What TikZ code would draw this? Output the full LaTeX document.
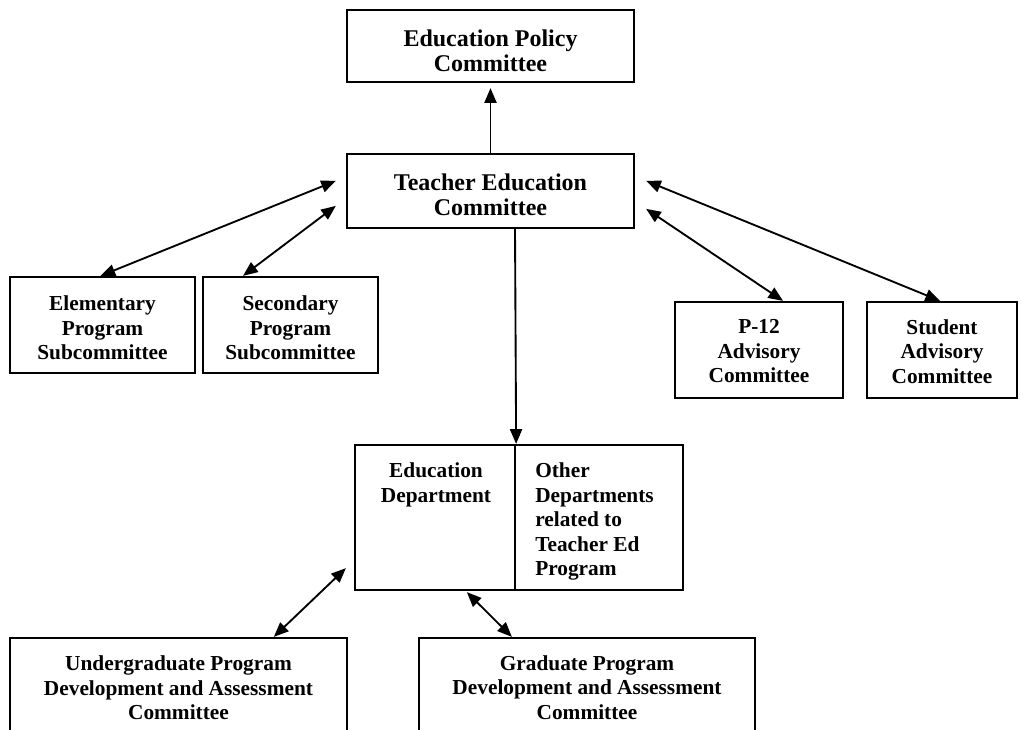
\documentclass[tikz,border=0pt]{standalone}
\usepackage{fontspec}
\setmainfont{Liberation Serif}
\usetikzlibrary{arrows.meta,calc}
\newlength\pxu \setlength\pxu{0.75pt}
\begin{document}
\begin{tikzpicture}[x=0.75pt,y=-0.75pt,
  box/.style={draw,line width=1.7pt,inner sep=0pt},
  lbl/.style={inner sep=0pt,align=center,font=\bfseries\fontsize{16}{18.4}\selectfont},
  biglbl/.style={lbl,font=\bfseries\fontsize{18}{19}\selectfont},
  conn/.style={line width=1.4pt,-{Triangle[length=11pt,width=9pt]}},
  biconn/.style={line width=1.4pt,{Triangle[length=11pt,width=9pt]}-{Triangle[length=11pt,width=9pt]}}]
\useasboundingbox (0,0) rectangle (1023,730);
\clip (0,0) rectangle (1023,730);
% top boxes
\node[box,minimum width=287\pxu,minimum height=72\pxu] (epc) at (490.5,46) {};
\node[biglbl] (epct) at ($(epc.center)+(0,5)$) {Education Policy\\Committee};
\node[box,minimum width=287\pxu,minimum height=74\pxu] (tec) at (490.5,191) {};
\node[biglbl] (tect) at ($(tec.center)+(0,4)$) {Teacher Education\\Committee};
% subcommittees
\node[box,minimum width=185\pxu,minimum height=96\pxu] (elem) at (102.5,325) {};
\node[lbl] (elemt) at ($(elem.center)+(0,3)$) {Elementary\\Program\\Subcommittee};
\node[box,minimum width=175\pxu,minimum height=96\pxu] (sec) at (290.5,325) {};
\node[lbl] (sect) at ($(sec.center)+(0,3)$) {Secondary\\Program\\Subcommittee};
\node[box,minimum width=168\pxu,minimum height=96\pxu] (p12) at (759,350) {};
\node[lbl] (p12t) at ($(p12.center)+(0,1.5)$) {P-12\\Advisory\\Committee};
\node[box,minimum width=150\pxu,minimum height=96\pxu] (stud) at (942,350) {};
\node[lbl] (studt) at ($(stud.center)+(0,1.5)$) {Student\\Advisory\\Committee};
% departments
\node[box,minimum width=160\pxu,minimum height=145\pxu] (edL) at (435,517.5) {};
\node[box,minimum width=168\pxu,minimum height=145\pxu] (edR) at (599,517.5) {};
\node[lbl,anchor=north] (edLt) at (436,462.5) {Education\\Department};
\node[lbl,align=left,anchor=north west] (edRt) at (535,462.5) {Other\\Departments\\related to\\Teacher Ed\\Program};
% bottom committees
\node[box,minimum width=337\pxu,minimum height=100\pxu] (ug) at (178.5,688) {};
\node[lbl] (ugt) at (ug.center) {Undergraduate Program\\Development and Assessment\\Committee};
\node[box,minimum width=336\pxu,minimum height=100\pxu] (gr) at (587,688) {};
\node[lbl] (grt) at ($(gr.center)+(0,-0.5)$) {Graduate Program\\Development and Assessment\\Committee};
% connectors
\draw[conn] (tec.north) -- ($(epc.south)+(0,5)$);
\draw[conn] ($(tec.south)+(24.5,0)$) -- (edL.north east);
\draw[biconn] ($(tec.north west)+(-10,28)$) -- ($(elem.north)+(-2,0)$);
\draw[biconn] ($(tec.north west)+(-10,53)$) -- ($(sec.north)+(-47.5,0)$);
\draw[biconn] ($(tec.north east)+(11,28)$) -- ($(stud.north)+(-2,0)$);
\draw[biconn] ($(tec.north east)+(11,56)$) -- ($(p12.north)+(24,0)$);
\draw[biconn] ($(edL.south west)+(-8,-23)$) -- ($(ug.north west)+(265,0)$);
\draw[biconn] ($(edL.south west)+(113,1)$) -- ($(gr.north west)+(94,0)$);
\end{tikzpicture}
\end{document}
